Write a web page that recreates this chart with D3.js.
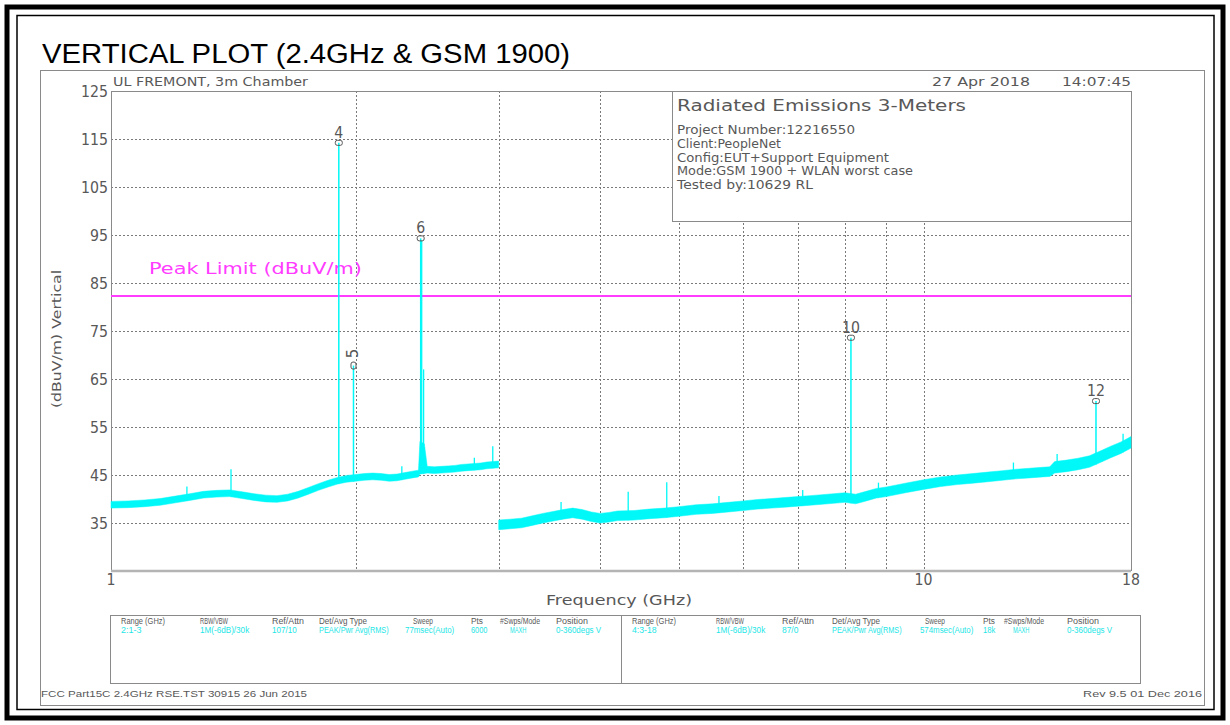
<!DOCTYPE html>
<html>
<head>
<meta charset="utf-8">
<script src="https://cdn.jsdelivr.net/npm/d3@7"></script>
<style>
  html, body { margin: 0; padding: 0; background: #fff; }
  svg { display: block; }
</style>
</head>
<body>
<svg id="chart" width="1230" height="725"></svg>
<script>
// ---------------- data ----------------
const yTicks = [35, 45, 55, 65, 75, 85, 95, 105, 115, 125];
const xTickLabels = [1, 10, 18];
const xGridFreqs = [2, 3, 4, 5, 6, 7, 8, 9, 10];
const limitLevel = 82.3;

// sweep 2: 1-3 GHz, trace envelope (dBuV/m)
const sweep1Freq = [1.00,1.05,1.10,1.15,1.20,1.25,1.30,1.35,1.40,1.45,1.50,1.55,1.60,1.65,1.70,1.75,1.80,1.85,1.90,1.95,2.00,2.05,2.10,2.15,2.20,2.25,2.30,2.35,2.39,2.40,2.43,2.45,2.50,2.55,2.60,2.65,2.70,2.75,2.80,2.85,2.90,2.95,3.00];
const sweep1Min  = [38.1,38.2,38.4,38.7,39.2,39.7,40.2,40.4,40.5,40.1,39.7,39.4,39.3,39.6,40.2,41.0,41.8,42.5,43.1,43.5,43.7,43.9,44.0,43.9,43.7,43.8,44.1,44.4,44.6,45.2,45.3,45.4,45.3,45.4,45.5,45.6,45.8,45.9,46.0,46.1,46.3,46.4,46.5];
const sweep1Max  = [39.5,39.6,39.8,40.1,40.6,41.1,41.6,41.8,41.9,41.5,41.1,40.8,40.7,41.0,41.6,42.4,43.2,43.9,44.5,44.9,45.1,45.3,45.4,45.3,45.1,45.2,45.5,45.8,46.0,52.0,51.5,46.8,46.7,46.8,46.9,47.0,47.2,47.3,47.4,47.5,47.7,47.8,47.9];

// sweep 4: 3-18 GHz, trace envelope (dBuV/m)
const sweep2Freq = [3.0,3.1,3.2,3.3,3.4,3.5,3.6,3.7,3.8,3.9,4.0,4.1,4.2,4.4,4.6,4.8,5.0,5.25,5.5,5.75,6.0,6.25,6.5,6.75,7.0,7.25,7.5,7.75,8.0,8.25,8.5,8.75,9.0,9.5,10,10.5,11,11.5,12,12.5,13,13.5,14,14.3,14.5,15,15.5,16,16.5,17,17.5,18];
const sweep2Min  = [33.6,33.8,34.0,34.5,35.0,35.4,35.8,36.1,35.8,35.3,35.0,35.2,35.5,35.6,35.9,36.1,36.4,36.8,37.0,37.3,37.6,37.9,38.1,38.3,38.5,38.7,38.9,39.1,39.3,39.0,39.6,40.2,40.5,41.3,42.0,42.6,43.0,43.3,43.6,43.9,44.2,44.4,44.6,44.7,45.4,45.7,46.1,46.6,47.6,48.6,49.5,50.6];
const sweep2Max  = [35.6,35.8,36.0,36.5,37.0,37.4,37.8,38.1,37.8,37.3,37.0,37.2,37.5,37.6,37.9,38.1,38.4,38.8,39.0,39.3,39.6,39.9,40.1,40.3,40.5,40.7,40.9,41.1,41.3,41.0,41.6,42.2,42.5,43.3,44.0,44.6,45.0,45.3,45.6,45.9,46.2,46.4,46.6,46.7,47.8,48.1,48.5,49.0,50.0,51.0,51.9,53.0];

// narrow spurs without markers
const spurFreq  = [1.24, 1.405, 2.28, 2.412, 2.425, 2.80, 2.95, 3.58, 4.33, 4.83, 5.6, 7.1, 8.8, 12.9, 14.6, 17.6];
const spurLevel = [42.6, 46.2, 46.8, 93.8, 67.0, 48.6, 51.0, 39.4, 41.5, 43.5, 40.6, 41.9, 43.4, 47.6, 49.4, 53.6];

// numbered markers
const markerIds   = ["4", "5", "6", "10", "12"];
const markerFreq  = [1.907, 1.988, 2.405, 8.14, 16.3];
const markerLevel = [114.2, 67.8, 94.3, 73.6, 60.4];

// header / info texts
const chartTitle = "VERTICAL PLOT (2.4GHz & GSM 1900)";
const siteText = "UL FREMONT, 3m Chamber";
const dateText = "27 Apr 2018";
const timeText = "14:07:45";
const infoTitle = "Radiated Emissions 3-Meters";
const infoLines = ["Project Number:12216550", "Client:PeopleNet", "Config:EUT+Support Equipment",
                   "Mode:GSM 1900 + WLAN worst case", "Tested by:10629 RL"];
const limitName = "Peak Limit (dBuV/m)";
const yTitle = "(dBuV/m) Vertical";
const xTitle = "Frequency (GHz)";
const tableHeaders = ["Range (GHz)", "RBW/VBW", "Ref/Attn", "Det/Avg Type", "Sweep", "Pts", "#Swps/Mode", "Position"];
const sweep1Settings = ["2:1-3", "1M(-6dB)/30k", "107/10", "PEAK/Pwr Avg(RMS)", "77msec(Auto)", "6000", "MAXH", "0-360degs V"];
const sweep2Settings = ["4:3-18", "1M(-6dB)/30k", "87/0", "PEAK/Pwr Avg(RMS)", "574msec(Auto)", "18k", "MAXH", "0-360degs V"];
const footerLeft = "FCC Part15C 2.4GHz RSE.TST 30915 26 Jun 2015";
const footerRight = "Rev 9.5 01 Dec 2016";

// ---------------- layout ----------------
const plot = { left: 111, right: 1131, top: 91, bottom: 571 };
const FONT = "'DejaVu Sans', 'Liberation Sans', sans-serif";
const INK = "#585858";
const CYAN = "#00f8f8";
const MAGENTA = "#ff3cff";

const svg = d3.select("#chart");

const x = d3.scaleLog().domain([1, 18]).range([plot.left, plot.right]);
const y = d3.scaleLinear().domain([25, 125]).range([plot.bottom, plot.top]);

function text(parent, s, px, py, o = {}) {
  const t = parent.append("text")
    .attr("x", px).attr("y", py)
    .attr("font-family", o.family || FONT)
    .attr("font-size", o.size || 12)
    .attr("fill", o.fill || INK)
    .attr("text-anchor", o.anchor || "start")
    .text(s);
  if (o.len) t.attr("textLength", o.len).attr("lengthAdjust", "spacingAndGlyphs");
  if (o.transform) t.attr("transform", o.transform);
  return t;
}

// page frames
svg.append("rect").attr("x", 7).attr("y", 7).attr("width", 1216).attr("height", 711)
  .attr("fill", "none").attr("stroke", "#000").attr("stroke-width", 5);
svg.append("rect").attr("x", 17).attr("y", 15.5).attr("width", 1197).attr("height", 694)
  .attr("fill", "none").attr("stroke", "#000").attr("stroke-width", 1.5);
svg.append("rect").attr("x", 40.5).attr("y", 70.5).attr("width", 1164).attr("height", 635)
  .attr("fill", "none").attr("stroke", "#8a8a8a").attr("stroke-width", 1);

// title
text(svg, chartTitle, 42, 63, { size: 27, fill: "#000", family: "'Liberation Sans', Arial, sans-serif", len: 528 });

// header line above the plot
text(svg, siteText, 113, 86, { size: 13, len: 195 });
text(svg, dateText, 932, 86, { size: 13, len: 98 });
text(svg, timeText, 1131, 86, { size: 13, anchor: "end", len: 69 });

// grid
const grid = svg.append("g");
grid.selectAll("line.h").data(yTicks.filter(v => v < 125)).join("line")
  .attr("x1", plot.left).attr("x2", plot.right)
  .attr("y1", d => Math.round(y(d)) + 0.5).attr("y2", d => Math.round(y(d)) + 0.5)
  .attr("stroke", "#7a7a7a").attr("stroke-width", 1).attr("stroke-dasharray", "2,2");
grid.selectAll("line.v").data(xGridFreqs).join("line")
  .attr("x1", d => Math.round(x(d)) + 0.5).attr("x2", d => Math.round(x(d)) + 0.5)
  .attr("y1", plot.top).attr("y2", plot.bottom)
  .attr("stroke", "#7a7a7a").attr("stroke-width", 1).attr("stroke-dasharray", "2,2");

// plot frame
svg.append("line").attr("x1", plot.left).attr("x2", plot.right).attr("y1", plot.top + 0.5).attr("y2", plot.top + 0.5)
  .attr("stroke", "#8a8a8a");
svg.append("line").attr("x1", plot.left + 0.5).attr("x2", plot.left + 0.5).attr("y1", plot.top).attr("y2", plot.bottom)
  .attr("stroke", "#8a8a8a");
svg.append("line").attr("x1", plot.right + 0.5).attr("x2", plot.right + 0.5).attr("y1", plot.top).attr("y2", plot.bottom)
  .attr("stroke", "#8a8a8a");
svg.append("line").attr("x1", plot.left).attr("x2", plot.right).attr("y1", plot.bottom).attr("y2", plot.bottom)
  .attr("stroke", "#b4b4b4").attr("stroke-width", 2.5);

// y tick labels
svg.append("g").selectAll("text").data(yTicks).join("text")
  .attr("x", 108).attr("y", d => y(d) + 6)
  .attr("text-anchor", "end").attr("font-family", FONT).attr("font-size", 15)
  .attr("fill", INK).attr("textLength", d => String(d).length * 9).attr("lengthAdjust", "spacingAndGlyphs")
  .text(d => d);

// x tick labels
svg.append("g").selectAll("text").data(xTickLabels).join("text")
  .attr("x", d => x(d)).attr("y", 585)
  .attr("text-anchor", "middle").attr("font-family", FONT).attr("font-size", 15)
  .attr("fill", INK).attr("textLength", d => String(d).length * 9).attr("lengthAdjust", "spacingAndGlyphs")
  .text(d => d);

// axis titles
text(svg, xTitle, 619, 605, { size: 14, anchor: "middle", len: 146 });
text(svg, yTitle, 0, 0, { size: 12, anchor: "middle", len: 138, transform: "translate(61,339) rotate(-90)" });

// limit line
svg.append("line").attr("x1", plot.left).attr("x2", plot.right)
  .attr("y1", y(limitLevel)).attr("y2", y(limitLevel))
  .attr("stroke", MAGENTA).attr("stroke-width", 2);
text(svg, limitName, 149, 274, { size: 15, fill: MAGENTA, len: 213 });

// trace bands
const band = d3.area()
  .x(d => x(d.f)).y0(d => y(d.lo)).y1(d => y(d.hi));
const seg1 = sweep1Freq.map((f, i) => ({ f, lo: sweep1Min[i], hi: sweep1Max[i] }));
const seg2 = sweep2Freq.map((f, i) => ({ f, lo: sweep2Min[i], hi: sweep2Max[i] }));
const traceG = svg.append("g");
[seg1, seg2].forEach(seg => {
  traceG.append("path").attr("d", band(seg))
    .attr("fill", CYAN).attr("stroke", CYAN).attr("stroke-width", 0.5).attr("stroke-linejoin", "round");
});

// base level of the trace under a given frequency
function floorAt(f) {
  const seg = f <= 3 ? seg1 : seg2;
  const i = Math.max(1, d3.bisector(d => d.f).left(seg, f));
  const a = seg[i - 1], b = seg[Math.min(i, seg.length - 1)];
  const t = b.f === a.f ? 0 : (f - a.f) / (b.f - a.f);
  return a.lo + t * (b.lo - a.lo);
}

// spurs
traceG.selectAll("line.spur").data(spurFreq.map((f, i) => ({ f, v: spurLevel[i] }))).join("line")
  .attr("x1", d => x(d.f)).attr("x2", d => x(d.f))
  .attr("y1", d => y(floorAt(d.f))).attr("y2", d => y(d.v))
  .attr("stroke", CYAN).attr("stroke-width", 1.3);

// markers
const markers = markerIds.map((id, i) => ({ id, f: markerFreq[i], v: markerLevel[i] }));
traceG.selectAll("line.mk").data(markers).join("line")
  .attr("x1", d => x(d.f)).attr("x2", d => x(d.f))
  .attr("y1", d => y(floorAt(d.f))).attr("y2", d => y(d.v))
  .attr("stroke", CYAN).attr("stroke-width", 1.5);

const mg = svg.append("g");
markers.forEach(d => {
  const mx = x(d.f), my = y(d.v);
  const rotated = d.id === "5";
  mg.append("rect")
    .attr("x", mx - (rotated ? 2.5 : 3.5)).attr("y", my - (rotated ? 3.5 : 2.5))
    .attr("width", rotated ? 5 : 7).attr("height", rotated ? 7 : 5).attr("rx", 2)
    .attr("fill", "none").attr("stroke", "#555").attr("stroke-width", 1);
  if (rotated) {
    text(mg, d.id, 0, 0, { size: 15, anchor: "middle", transform: `translate(${mx + 5},${my - 12}) rotate(-90)` });
  } else {
    text(mg, d.id, mx, my - 5, { size: 15, anchor: "middle", len: d.id.length * 9 });
  }
});

// info box
const info = svg.append("g");
info.append("rect").attr("x", 672.5).attr("y", 91.5).attr("width", 459).attr("height", 130)
  .attr("fill", "#fff").attr("stroke", "#8a8a8a");
text(info, infoTitle, 677, 111, { size: 15, len: 289 });
const infoWidths = [178, 104, 212, 236, 136];
infoLines.forEach((s, i) => text(info, s, 677, 134 + i * 13.8, { size: 11.5, len: infoWidths[i] }));

// settings table
const table = svg.append("g");
table.append("rect").attr("x", 110.5).attr("y", 615.5).attr("width", 1030).attr("height", 68)
  .attr("fill", "none").attr("stroke", "#8a8a8a");
table.append("line").attr("x1", 621.5).attr("x2", 621.5).attr("y1", 615.5).attr("y2", 683.5).attr("stroke", "#8a8a8a");
const headX1 = [121, 200, 272, 319, 413, 471, 500, 556];
const valX1  = [121, 200, 272, 319, 405, 471, 510, 556];
const headX2 = [632, 716, 782, 832, 925, 983, 1004, 1067];
const valX2  = [632, 716, 782, 832, 920, 983, 1013, 1067];
const cell = { size: 8.5, family: "'Liberation Sans', sans-serif" };
tableHeaders.forEach((s, i) => {
  text(table, s, headX1[i], 624, { ...cell, len: s.length * 4.0 });
  text(table, s, headX2[i], 624, { ...cell, len: s.length * 4.0 });
});
sweep1Settings.forEach((s, i) => text(table, s, valX1[i], 633, { ...cell, fill: "#22e6e6", len: s.length * 4.1 }));
sweep2Settings.forEach((s, i) => text(table, s, valX2[i], 633, { ...cell, fill: "#22e6e6", len: s.length * 4.1 }));

// footer
text(svg, footerLeft, 41, 697, { size: 9.5, family: "'Liberation Sans', sans-serif", len: 266 });
text(svg, footerRight, 1202, 697, { size: 9.5, anchor: "end", family: "'Liberation Sans', sans-serif", len: 119 });
</script>
</body>
</html>
